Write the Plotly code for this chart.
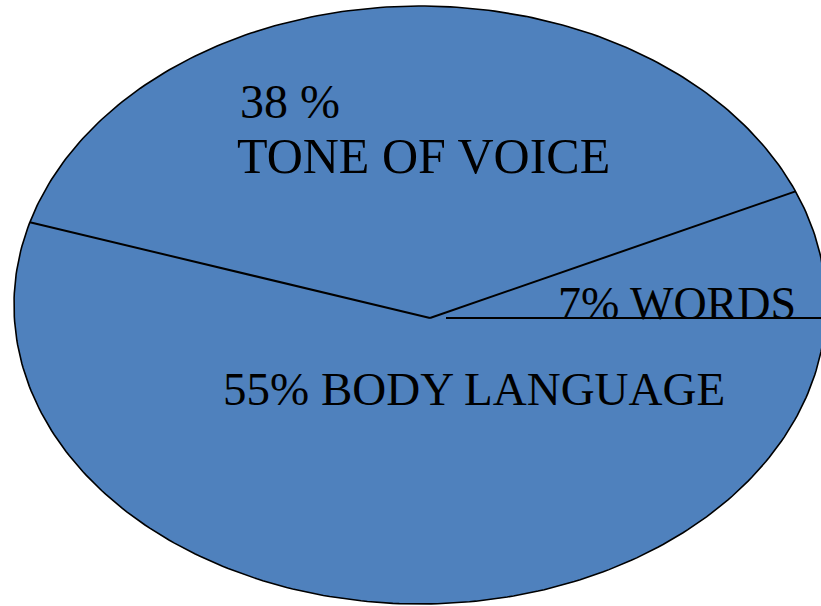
import numpy as np
import plotly.graph_objects as go

# Shares of communication, in pie order (counter-clockwise from 3 o'clock)
categories = ["WORDS", "TONE OF VOICE", "BODY LANGUAGE"]
shares = [7, 38, 55]
label_lines = [["7% WORDS"], ["38 %", "TONE OF VOICE"], ["55% BODY LANGUAGE"]]

# Geometry of the flattened (elliptical) pie, in pixel-like axis units
W, H = 821, 606
EX, EY = 420.0, 305.0      # ellipse centre
RX, RY = 406.0, 299.0      # ellipse radii
PX, PY = 430.0, 318.0      # point where slices meet
FILL = "#4F81BD"
FONT = "Liberation Serif, Times New Roman, serif"


def rim_point(theta_deg):
    """Point where a ray from the slice apex meets the ellipse rim."""
    t = np.radians(theta_deg)
    dx, dy = RX * np.cos(t), -RY * np.sin(t)
    px, py = (PX - EX) / RX, (PY - EY) / RY
    ux, uy = np.cos(t), -np.sin(t)
    b = px * ux + py * uy
    c = px * px + py * py - 1.0
    s = -b + np.sqrt(b * b - c)
    return PX + s * dx, PY + s * dy


total = float(sum(shares))
bounds = np.concatenate([[0.0], np.cumsum(shares) / total * 360.0])

fig = go.Figure()

# Slice fills
for i, cat in enumerate(categories):
    a0, a1 = bounds[i], bounds[i + 1]
    angs = np.linspace(a0, a1, 200)
    pts = [rim_point(a) for a in angs]
    xs = [PX] + [p[0] for p in pts] + [PX]
    ys = [PY] + [p[1] for p in pts] + [PY]
    fig.add_trace(go.Scatter(x=xs, y=ys, fill="toself", fillcolor=FILL,
                             mode="lines", line=dict(width=0),
                             hoverinfo="text", text=cat, showlegend=False))

# Ellipse outline
th = np.linspace(0, 2 * np.pi, 400)
fig.add_trace(go.Scatter(x=EX + RX * np.cos(th), y=EY + RY * np.sin(th),
                         mode="lines", line=dict(color="black", width=1.6),
                         hoverinfo="skip", showlegend=False))

# Slice boundaries
for k, a in enumerate(bounds[:-1]):
    x1, y1 = rim_point(a)
    start_x = PX + (16 if k == 0 else 0)
    fig.add_trace(go.Scatter(x=[start_x, x1], y=[PY, y1], mode="lines",
                             line=dict(color="black", width=2),
                             hoverinfo="skip", showlegend=False))

# Slice labels: (left x, cap-centre y, font size) per line
label_pos = [[(556, 303.5, 46)], [(238, 101, 48), (235, 156, 50)], [(221, 389, 47)]]
for lines, poss in zip(label_lines, label_pos):
    for txt, (lx, ly, fs) in zip(lines, poss):
        fig.add_annotation(x=lx, y=ly, text=txt, showarrow=False,
                           xanchor="left", yanchor="middle",
                           font=dict(family=FONT, size=fs, color="black"))

fig.update_layout(
    width=W, height=H, margin=dict(l=0, r=0, t=0, b=0),
    paper_bgcolor="white", plot_bgcolor="white",
    xaxis=dict(range=[0, W], visible=False, fixedrange=True),
    yaxis=dict(range=[H, 0], visible=False, fixedrange=True),
)

fig.write_html("out.html")
